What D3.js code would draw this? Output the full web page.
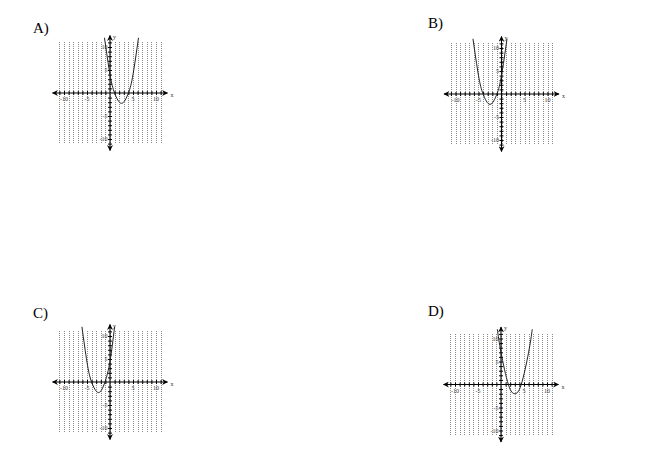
<!DOCTYPE html>
<html>
<head>
<meta charset="utf-8">
<script src="https://cdn.jsdelivr.net/npm/d3@7"></script>
<style>
  body { margin: 0; background: #fff; }
  svg { display: block; }
  .panel-label { font-family: "Liberation Serif", "DejaVu Serif", serif; font-size: 15px; fill: #000; }
  .tick-label { font-family: "Liberation Serif", serif; font-size: 6px; fill: #333; }
</style>
</head>
<body>
<div id="chart"></div>
<script>
// 选项标签
const panelLabels = ["A)", "B)", "C)", "D)"];

// 坐标轴刻度
const gridTicks = d3.range(-11, 12);          // 每个整数一条虚线
const labelTicks = [-10, -5, 5, 10];          // 有文字的刻度

// 抛物线上的点 [x, y]
const curveA = [[-1.2, 12], [0, 4], [1, 0], [2.5, -2.25], [4, 0], [5, 4], [6.2, 12]];
const curveB = [[-6.2, 12], [-5, 4], [-4, 0], [-2.5, -2.25], [-1, 0], [0, 4], [1.2, 12]];
const curveC = [[-6.1, 12], [-5, 4.3], [-4, 0], [-2.5, -2.3], [-1.1, 0], [0, 4.5], [1.0, 12]];
const curveD = [[-0.8, 12], [0, 7], [1.6, 0], [3, -2], [4.4, 0], [6, 7], [6.8, 12]];
const curves = [curveA, curveB, curveC, curveD];

// 版面配置
const W = 650, H = 474;
const unit = 4.6;                 // 每单位像素
const layout = [
  { ox: 110, oy: 93,  lx: 33,  ly: 33 },
  { ox: 501.5, oy: 94, lx: 428, ly: 28 },
  { ox: 110, oy: 382, lx: 33,  ly: 318 },
  { ox: 501, oy: 384.5, lx: 428, ly: 316 }
];

const svg = d3.select("#chart").append("svg")
  .attr("width", W).attr("height", H);

// 箭头
const defs = svg.append("defs");
defs.append("marker")
  .attr("id", "arrow")
  .attr("viewBox", "0 0 10 10")
  .attr("refX", 9).attr("refY", 5)
  .attr("markerWidth", 6).attr("markerHeight", 6)
  .attr("markerUnits", "userSpaceOnUse")
  .attr("orient", "auto-start-reverse")
  .append("path")
  .attr("d", "M0,0 L10,5 L0,10 L3,5 Z")
  .attr("fill", "#000");

function drawPanel(i) {
  const L = layout[i];
  const g = svg.append("g");

  const x = d3.scaleLinear().domain([-12.5, 12.5])
    .range([L.ox - 12.5 * unit, L.ox + 12.5 * unit]);
  const y = d3.scaleLinear().domain([-12.5, 12.5])
    .range([L.oy + 12.5 * unit, L.oy - 12.5 * unit]);

  // 选项文字
  g.append("text").attr("class", "panel-label")
    .attr("x", L.lx).attr("y", L.ly).text(panelLabels[i]);

  // 竖向点状网格（对齐到像素）
  g.append("g").selectAll("line").data(gridTicks).join("line")
    .attr("x1", d => Math.round(x(d)) + 0.5).attr("x2", d => Math.round(x(d)) + 0.5)
    .attr("y1", Math.round(y(11))).attr("y2", Math.round(y(-11)))
    .attr("stroke", "#8a8a8a").attr("stroke-width", 1)
    .attr("shape-rendering", "crispEdges")
    .attr("stroke-dasharray", "1,1");

  // x 轴
  const xAxis = g.append("g")
    .attr("transform", `translate(0,${L.oy})`)
    .call(d3.axisBottom(x).tickValues(gridTicks.filter(d => d !== 0))
      .tickSizeInner(2).tickSizeOuter(0).tickFormat(""));
  xAxis.select(".domain").remove();
  xAxis.selectAll(".tick line").attr("y1", -2).attr("stroke", "#000");
  g.append("line")
    .attr("x1", x(-12.5)).attr("x2", x(12.5))
    .attr("y1", L.oy).attr("y2", L.oy)
    .attr("stroke", "#000").attr("stroke-width", 1.1)
    .attr("marker-start", "url(#arrow)").attr("marker-end", "url(#arrow)");

  // y 轴
  const yAxis = g.append("g")
    .attr("transform", `translate(${L.ox},0)`)
    .call(d3.axisLeft(y).tickValues(gridTicks.filter(d => d !== 0))
      .tickSizeInner(2).tickSizeOuter(0).tickFormat(""));
  yAxis.select(".domain").remove();
  yAxis.selectAll(".tick line").attr("x1", 2).attr("stroke", "#000");
  g.append("line")
    .attr("x1", L.ox).attr("x2", L.ox)
    .attr("y1", y(-12.5)).attr("y2", y(12.5))
    .attr("stroke", "#000").attr("stroke-width", 1.1)
    .attr("marker-start", "url(#arrow)").attr("marker-end", "url(#arrow)");

  // 刻度文字
  g.append("g").selectAll("text").data(labelTicks).join("text")
    .attr("class", "tick-label")
    .attr("x", d => x(d)).attr("y", L.oy + 8)
    .attr("text-anchor", "middle").text(d => d);
  g.append("g").selectAll("text").data(labelTicks).join("text")
    .attr("class", "tick-label")
    .attr("x", L.ox - 2.5).attr("y", d => y(d) + 2)
    .attr("text-anchor", "end").text(d => d);

  // 轴名
  g.append("text").attr("class", "tick-label")
    .attr("x", x(12.5) + 3).attr("y", L.oy + 4).text("x");
  g.append("text").attr("class", "tick-label")
    .attr("x", L.ox + 3).attr("y", y(12.5) + 3).text("y");

  // 抛物线
  const line = d3.line()
    .x(d => x(d[0])).y(d => y(d[1]))
    .curve(d3.curveNatural);
  g.append("path").datum(curves[i])
    .attr("d", line)
    .attr("fill", "none").attr("stroke", "#222").attr("stroke-width", 1);
}

panelLabels.forEach((_, i) => drawPanel(i));
</script>
</body>
</html>
